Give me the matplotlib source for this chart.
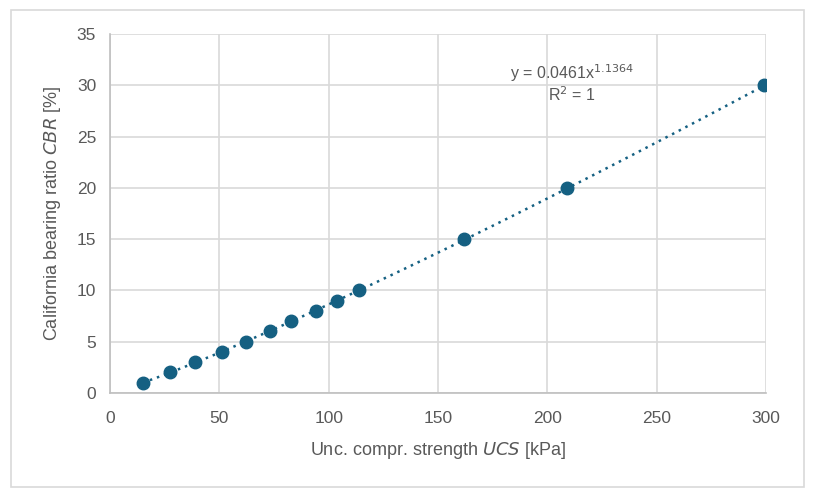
import numpy as np
import matplotlib
matplotlib.use("Agg")
import matplotlib.pyplot as plt
from matplotlib.patches import Rectangle

# valores
ucs = [15, 27.5, 39, 51, 62, 73, 83, 94, 104, 114, 162, 209, 299]
cbr = [1, 2, 3, 4, 5, 6, 7, 8, 9, 10, 15, 20, 30]
xticks = [0, 50, 100, 150, 200, 250, 300]
yticks = [0, 5, 10, 15, 20, 25, 30, 35]

color = "#156082"
grey = "#595959"

plt.rcParams["font.family"] = ["Liberation Sans", "DejaVu Sans"]

fig = plt.figure(figsize=(8.14, 4.95), dpi=100)
fig.patches.append(Rectangle((11/814, 1-487/495), 793/814, 477/495,
                             transform=fig.transFigure, fill=False,
                             edgecolor="#d9d9d9", linewidth=1.2))
ax = fig.add_axes([110/814, 1-393/495, 656/814, 359/495])

# linea de tendencia potencial
b, loga = np.polyfit(np.log(ucs), np.log(cbr), 1)
xt = np.linspace(min(ucs), max(ucs), 300)
ax.plot(xt, np.exp(loga) * xt**b, linestyle=(0, (1, 2)), color=color, linewidth=1.8)
ax.plot(ucs, cbr, "o", color=color, markersize=9)

ax.set_xlim(0, 300)
ax.set_ylim(0, 35)
ax.set_xticks(xticks)
ax.set_yticks(yticks)
ax.grid(True, color="#d9d9d9", linewidth=1.2)
ax.set_axisbelow(True)
for s in ["top", "right"]:
    ax.spines[s].set_visible(False)
for s in ["left", "bottom"]:
    ax.spines[s].set_color("#bfbfbf")
    ax.spines[s].set_linewidth(1.2)
ax.tick_params(length=0, labelsize=12.5, labelcolor=grey)
ax.tick_params(axis="x", pad=13)
ax.tick_params(axis="y", pad=10)

ax.set_xlabel("Unc. compr. strength $\\it{UCS}$ [kPa]", fontsize=13, color=grey, labelpad=10)
ax.set_ylabel("California bearing ratio $\\it{CBR}$ [%]", fontsize=13, color=grey, labelpad=10)

ax.text(0.704, 0.891, "y = 0.0461x$^{1.1364}$", transform=ax.transAxes,
        ha="center", va="center", fontsize=11.5, color=grey)
ax.text(0.704, 0.830, "R$^2$ = 1", transform=ax.transAxes,
        ha="center", va="center", fontsize=11.5, color=grey)

fig.savefig("out.png", dpi=100)
